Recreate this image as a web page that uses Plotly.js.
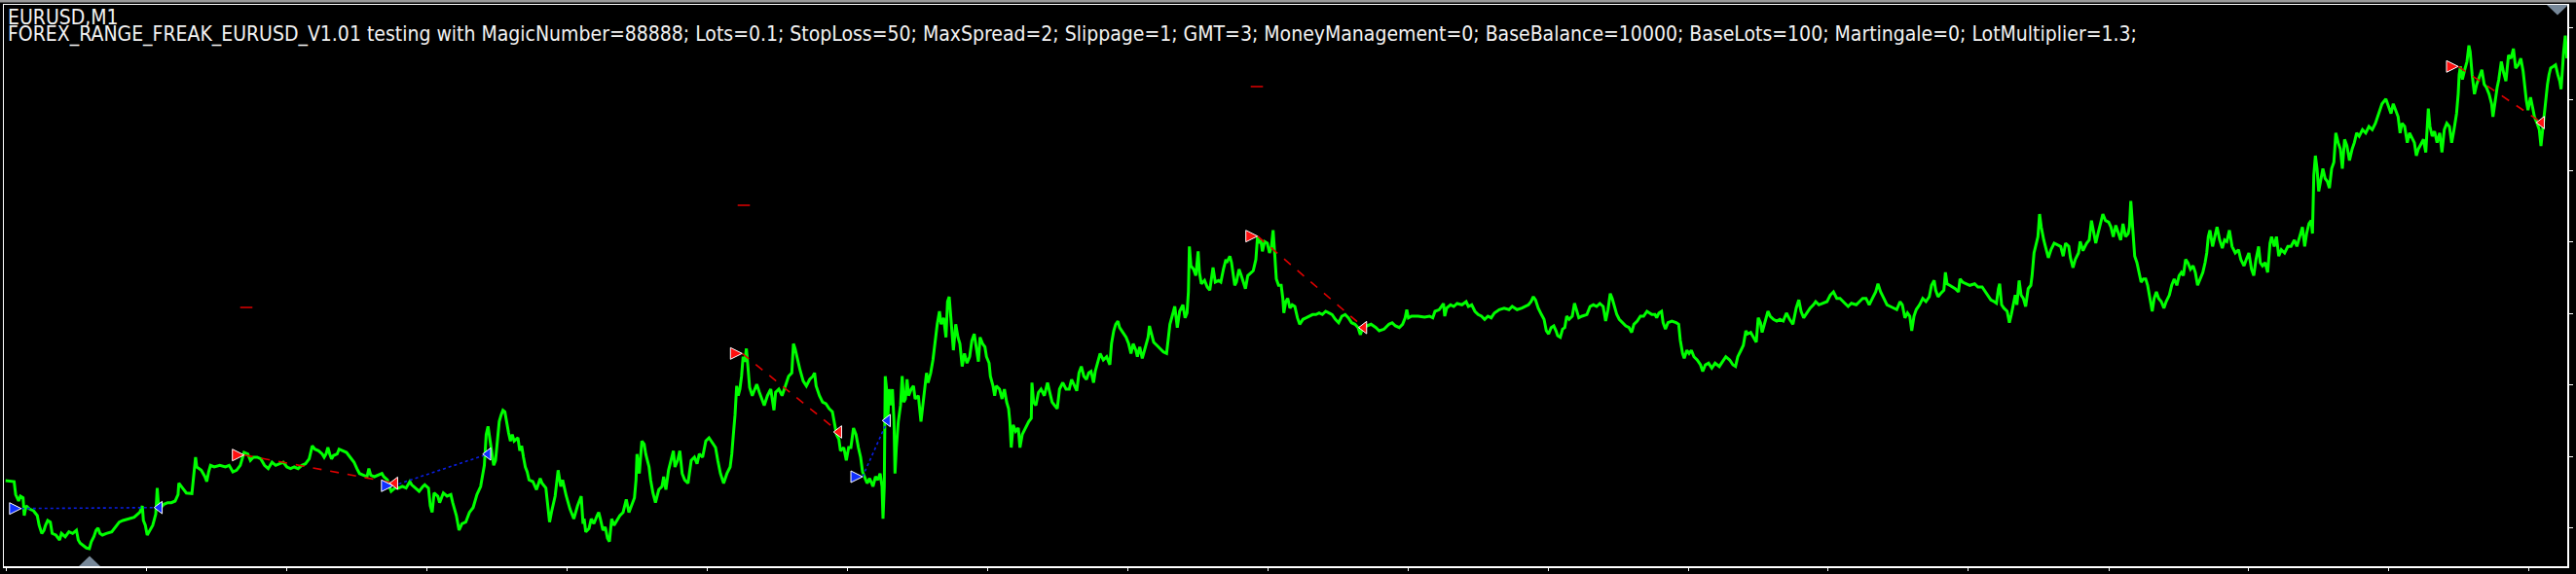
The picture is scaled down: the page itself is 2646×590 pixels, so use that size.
<!DOCTYPE html>
<html>
<head>
<meta charset="utf-8">
<script src="https://cdn.plot.ly/plotly-3.0.1.min.js"></script>
<style>
  html, body { margin: 0; padding: 0; background: #000; }
  #chart { width: 2646px; height: 590px; }
</style>
</head>
<body>
<div id="chart"></div>
<script>
// ---- Data (bar index, price in points above chart floor) ----
const chartTitle = "EURUSD,M1";
const testerInfo = "FOREX_RANGE_FREAK_EURUSD_V1.01 testing with MagicNumber=88888; Lots=0.1; StopLoss=50; MaxSpread=2; Slippage=1; GMT=3; MoneyManagement=0; BaseBalance=10000; BaseLots=100; Martingale=0; LotMultiplier=1.3;";

const sessionA = [[5.7,89],[14.5,88],[16.1,74.7],[19.1,68],[21,73],[23.7,71.3],[24.9,53],[26.8,63],[30.6,59.7],[34.4,58],[38.3,53],[40.2,43],[42.9,34.7],[45.2,38],[46.7,43],[49,48],[51.7,46.3],[53.6,34.7],[57.4,33],[61.2,28],[63.1,34.7],[67,31.3],[70.8,36.3],[74.6,34.7],[78.5,38],[80.4,28],[82.3,24.7],[86.1,21.3],[88.8,19.7],[91.8,19],[93.8,26.3],[96.4,31.3],[98.7,38],[100.7,40.3],[102.6,34.7],[105.2,33],[109.1,34.7],[114.8,36.3],[118.6,41.3],[122.5,46.3],[126.3,48],[132,49.7],[137.8,51.3],[143.5,56.3],[146.2,63],[147.3,48],[149.3,43],[151.2,33],[153.8,38],[156.9,43],[160,54.7],[161.5,81.3],[162.6,66.3],[165.3,61.3],[168.4,64.7],[172.2,66.3],[176,66.3],[179.9,68],[182.9,74.7],[183.7,86.3],[187.5,81.3],[191.4,76.3],[197.1,75.7],[199,91.3],[200.9,113],[202.1,103],[206.7,99.7],[210.5,93],[212.4,88],[214.3,98],[216.2,104.7],[220.1,103],[225.8,104.7],[231.5,103],[235.4,104.7],[239.2,98],[243,99.7],[246.8,104.7],[248.8,111.3],[250.7,118],[254.5,116.3],[257.2,109.7],[260.2,113],[264.1,113],[267.9,111.3],[271.7,104.7],[275.5,101.3],[279.4,108],[283.2,104.7],[287,106.3],[290.9,108],[294.7,103],[298.5,101.3],[302.3,103],[306.2,101.3],[310,104.7],[313.8,106.3],[317.6,111.3],[320.7,124.7],[323.4,121.3],[327.2,119.7],[331,116.3],[333,113],[334.9,116.3],[336.8,123],[338.7,116.3],[340.6,111.3],[342.5,114.7],[346.3,116.3],[348.3,121.3],[352.1,119.7],[355.9,118],[359.7,113],[363.6,108],[366.6,101.3],[369.3,96.3],[373.1,94.7],[377,93],[378.9,101.3],[380.8,94.7],[384.6,93],[388.4,94.7],[392.3,96.3],[394.2,93],[398,89.7],[399.9,83],[401.8,78],[405.7,81.3],[409.5,81.3],[413.3,83],[417.1,81.3],[421,88],[422.9,84.7],[426.7,81.3],[430.5,78],[434.4,83],[436.3,84.7],[440.1,81.3],[442,63],[443.9,56.3],[445.9,76.3],[449.7,73],[451.6,66.3],[455.4,76.3],[459.2,73],[463.1,74.7],[465,66.3],[468.8,53],[471.5,38],[474.5,44.7],[478.4,46.3],[482.2,56.3],[486,61.3],[489.9,74.7],[493.7,83],[497.5,104.7],[499.4,136.3],[501.3,144.7],[503.3,129.7],[505.2,116.3],[507.1,104.7],[509,109.7],[510.9,133],[512.8,149.7],[514.7,156.3],[516.6,161.3],[518.6,159.7],[520.5,146.3],[522.4,138],[524.3,129.7],[526.2,136.3],[528.1,129.7],[532,133],[533.9,119.7],[535.8,124.7],[537.7,113],[539.6,103],[541.5,98],[543.4,89.7],[547.3,88],[551.1,79.7],[554.9,91.3],[556.8,86.3],[560.7,81.3],[562.6,63],[564.5,46.3],[566.4,56.3],[570.2,73],[573.3,99.7],[576,83],[577.9,89.7],[581.7,73],[585.5,59.7],[589.4,49.7],[593.2,63],[597,73],[598.9,44.7]];

const sessionB = [[600,49.7],[601.7,36.3],[605,39.7],[607.3,49.7],[610,44.7],[613.3,53],[615,56.3],[616.7,49.7],[619.3,38],[621.7,41.3],[624,29.7],[626,26.3],[628.3,49.7],[630.7,43],[633.3,48],[636.7,53],[640,56.3],[643.3,69.7],[646,56.3],[648.3,63],[651.7,71.3],[653.3,89.7],[654.3,116.3],[656.7,96.3],[659.3,129.7],[661.7,126.3],[663.3,116.3],[666.7,103],[668.3,89.7],[670.7,76.3],[673.3,66.3],[676.7,79.7],[680,83],[681.7,93],[684,79.7],[686.7,99.7],[689.3,109.7],[691.7,119.7],[693.3,103],[696,109.7],[698.3,119.7],[700.7,96.3],[703.3,89.7],[706.7,86.3],[710,109.7],[713.3,113],[716,106.3],[718.3,116.3],[721.7,113],[725,129.7],[728.3,133],[731.7,128],[735,123],[737.3,109.7],[740,96.3],[743.3,86.3],[746.7,96.3],[750,103],[751.7,116.3],[753.3,136.3],[755,156.3],[756.7,186.3],[758.3,176.3],[760,183],[761.7,196.3],[763.3,216.3],[765,211.3],[766.7,224.7],[768.3,203],[770,184.7],[772.7,176.3],[775,183],[777.3,188],[780,179.7],[782.7,173],[785,166.3],[788.3,176.3],[791.7,183],[795,161.3],[796.7,179.7],[800,183],[803.3,176.3],[806.7,186.3],[810,196.3],[813.3,199.7],[815,229.7],[816.7,224.7],[819.3,213],[821.7,203],[825,191.3],[828.3,186.3],[831.7,193],[835,196.3],[836.7,199.7],[838.3,186.3],[841.7,176.3],[845,169.7],[848.3,168],[851.7,163],[855,159.7],[856.7,149.7],[859.3,136.3],[861.7,131.3],[863.3,119.7],[866.7,123],[869.3,109.7],[871.7,123],[874,123],[876.7,143],[879.3,136.3],[881.7,123],[884,113],[886,98],[888.3,93],[890.7,86.3],[893.3,91.3],[896.7,83],[899.3,93],[901.7,89.7],[904,96.3],[906,83],[907,49.7],[908.3,83],[909.3,196.3],[910.7,183],[912,153],[913.3,183],[915,166.3],[916.7,183],[918.3,149.7],[919.3,96.3],[920.7,123],[922.7,149.7],[925,166.3],[926.7,196.3],[928.3,169.7],[930,173],[931.7,193],[933.3,176.3],[936,183],[938.3,186.3],[940,173],[943.3,176.3],[946,149.7],[948.3,169.7],[950,183],[951.7,199.7],[953.3,189.7],[956,199.7],[958.3,213],[960,229.7],[962.7,249.7],[965,263],[966.7,249.7],[969.3,256.3],[971.7,236.3],[973.3,273],[975,278],[976.7,256.3],[979.3,223]];

const sessionC = [[981.7,249.7],[984,236.3],[986,229.7],[988.3,206.3],[990.7,219.7],[993.3,209.7],[996,216.3],[998.3,233],[1000.7,239.7],[1002.7,226.3],[1005,211.3],[1006.7,236.3],[1009.3,229.7],[1011.7,226.3],[1013.3,216.3],[1016,209.7],[1017.3,196.3],[1020,186.3],[1021.7,176.3],[1023.3,186.3],[1026.7,183],[1029.3,173],[1031.7,183],[1034,169.7],[1036,163],[1037.3,149.7],[1038.7,123],[1040.7,146.3],[1043.3,139.7],[1046,143],[1047.7,123],[1050,136.3],[1053.3,143],[1056.7,149.7],[1059.3,153],[1060,189.7],[1061.7,169.7],[1064,166.3],[1066.7,179.7],[1069.3,183],[1072.7,176.3],[1076,189.7],[1078.3,179.7],[1080.7,169.7],[1083.3,166.3],[1086,163],[1088.3,183],[1091.7,189.7],[1095,183],[1098.3,183],[1100.7,193],[1103.3,186.3],[1106,181.3],[1108.3,199.7],[1110.7,206.3],[1113.3,196.3],[1116,193],[1118.3,199.7],[1120.7,201.3],[1123.3,189.7],[1125,201.3],[1127.3,209.7],[1130,219.7],[1133.3,213],[1136.7,216.3],[1140,208],[1141.7,229.7],[1144,243],[1146,249.7],[1148.3,253],[1150,246.3],[1153.3,241.3],[1156.7,236.3],[1159.3,229.7],[1161.7,219.7],[1164,229.7],[1166.7,223],[1168.3,216.3],[1170.7,226.3],[1173.3,214.7],[1176.7,226.3],[1179.3,236.3],[1180.7,248],[1182.7,239.7],[1185,231.3],[1188.3,228],[1191.7,224.7],[1195,221.3],[1198.3,219.7],[1200,236.3],[1201.7,249.7],[1204,258],[1206.7,268],[1209.3,246.3],[1211.7,263],[1215,269.7],[1217.3,256.3],[1219.3,261.3],[1220.7,283],[1221.7,329.7],[1223.3,309.7],[1226,306.3],[1228.3,299.7],[1230.7,324.7],[1232,303],[1234,291.3],[1237.3,294.7],[1240,288],[1242.7,284.7],[1246,308],[1248.3,293],[1251.7,294.7],[1254,293],[1256.7,306.3],[1259.3,316.3]];

const sessionD = [[1260,313],[1263.3,319.7],[1265,313],[1266.7,299.7],[1268.3,289.7],[1270,293],[1272.7,306.3],[1275,299.7],[1277.3,293],[1279.3,286.3],[1281.7,299.7],[1285,303],[1287.3,304.7],[1290,316.3],[1291.7,339.7],[1293.3,333],[1295,336.3],[1296.7,324.7],[1299,334.7],[1301.7,333],[1304,323],[1306,329.7],[1307.7,346.3],[1309.3,323],[1311,296.3],[1313.3,289.7],[1316,289.7],[1317.7,276.3],[1318.7,261.3],[1320.7,273],[1322.7,276.3],[1325,266.3],[1327.3,269.7],[1330,268],[1332.7,256.3],[1335,249.7],[1338.3,254.7],[1341.7,256.3],[1345,258],[1348.3,259.7],[1351.7,259.7],[1355,261.3],[1358.3,259.7],[1361.7,263],[1365,261.3],[1368.3,259.7],[1371.7,254.7],[1375,251.3],[1378.3,258],[1381.7,259.7],[1385,256.3],[1388.3,251.3],[1391.7,249.7],[1395,246.3],[1397.3,239],[1400,246.3],[1404,248],[1408.3,249.7],[1413.3,246.3],[1416.7,243],[1421.7,244.7],[1426.7,249.7],[1430,251.3],[1433.3,248],[1437.3,246.3],[1440.7,249.7],[1443.3,256.3],[1445,264.7],[1446.7,256.3],[1450,258],[1456.7,258],[1463.3,257],[1468.3,258],[1471.7,256.3],[1474,263],[1478.3,264.7],[1482.7,271],[1484,258],[1486,266.3],[1490,269.7],[1493.3,268],[1496.7,271],[1501.7,269.7],[1506,273],[1508.3,268],[1511.7,269.7],[1515,263],[1518.3,259.7],[1521.7,258],[1525,254.7],[1528.3,258],[1531.7,256.3],[1535,261.3],[1540,264.7],[1545,266.3],[1550,264.7],[1553.3,268],[1558.3,264.7],[1563.3,266.3],[1566.7,268],[1570,269.7],[1572.7,273],[1575,278],[1577.3,274.7],[1580,266.3],[1583.3,259.7],[1586,254.7],[1588.3,243],[1590.7,239.7],[1593.3,246.3],[1596,248],[1598.3,243],[1600,238],[1602.7,236.3],[1605,244.7],[1607.3,246.3],[1609.3,258],[1611.7,254.7],[1615,258],[1617.3,271.3],[1619.3,264.7],[1621.7,256.3],[1625,258],[1630,259.7],[1633.3,268],[1636.7,269.7],[1640,268],[1643.3,271],[1646.7,268],[1649.3,253],[1651.7,264.7],[1654,281.3],[1656,276.3],[1658.3,268],[1660.7,259.7],[1663.3,254.7],[1666.7,251.3],[1670,248],[1673.3,246.3],[1676,241.3],[1678.3,249.7],[1681.7,253],[1685,258],[1688.3,258],[1691.7,263],[1696.7,259.7],[1700,259.7]];

const sessionE = [[1701.7,256.3],[1704,261.3],[1706.7,263],[1708.3,251.3],[1710.7,244.7],[1713.3,251.3],[1717.3,253],[1721.7,251.3],[1724.3,249.7],[1726,233],[1728.3,219.7],[1730,214.7],[1732.7,223],[1735,219.7],[1737.3,223],[1740,216.3],[1743.3,213],[1746.7,208],[1749,201.3],[1751.7,208],[1755,209.7],[1758.3,204.7],[1761.7,209.7],[1766,206.3],[1769.3,211.3],[1772.7,216.3],[1776.7,213],[1780,208],[1782.7,206.3],[1785,216.3],[1788.3,223],[1790.7,228],[1793.3,243],[1795,239.7],[1798.3,241.3],[1801.7,234.7],[1804,231.3],[1806,256.3],[1808.3,251.3],[1810,241.3],[1812.7,251.3],[1816,263],[1818.3,258],[1821.7,254.7],[1825,253],[1828.3,254.7],[1831.7,253],[1835,261.3],[1838.3,254.7],[1841.7,249.7],[1845,266.3],[1847.7,274.7],[1850,263],[1852.7,256.3],[1856,261.3],[1859.3,266.3],[1862.7,269.7],[1865,273],[1868.3,269.7],[1871.7,271.3],[1876.7,273],[1880,279.7],[1883.3,283],[1886.7,276.3],[1890,276.3],[1895,271.3],[1898.3,268],[1901.7,271.3],[1906.7,269.7],[1910,273],[1913.3,276.3],[1916.7,276.3],[1920,269.7],[1923.3,276.3],[1926.7,283],[1929,291.3],[1931.7,283],[1935,276.3],[1938.3,269.7],[1941.7,268],[1945,266.3],[1948.3,264.7],[1951.7,273],[1954,269.7],[1956.7,256.3],[1959.3,261.3],[1961.7,258],[1963.7,243],[1966,258],[1968.3,264.7],[1971.7,269.7],[1975,276.3],[1978.3,273],[1981.7,278],[1984,289.7],[1986.7,294.7],[1988.3,284.7],[1990.7,278],[1993.3,281.3],[1996.7,284.7],[1998.3,303],[2000,291.3],[2002.7,289.7],[2006,288],[2008.3,286.3],[2011.7,283],[2013.3,296.3],[2016,293],[2019.3,291.3],[2023.3,289.7],[2028.3,291.3],[2031.7,288],[2036,288],[2038.3,284.7],[2041.7,279.7],[2045,274.7],[2048.3,273],[2050.7,271.3],[2052.7,286.3],[2054,291.3],[2056,269.7],[2058.3,266.3],[2061.7,263],[2064,251.3],[2066,259.7],[2068.3,273],[2070,279.7],[2071.7,269.7],[2074,294.7],[2076,279.7],[2078.3,276.3],[2080.7,268],[2083.3,286.3],[2086,289.7],[2087.3,299.7],[2089.3,323],[2091.7,333],[2093.3,339.7],[2095,363],[2096.7,349.7],[2099.3,336.3],[2101.7,326.3],[2104,318],[2106.7,326.3],[2110,333],[2113.3,331.3],[2116.7,329.7],[2119.3,319.7],[2121.7,333],[2125,329.7],[2126.7,318],[2129.3,308],[2131.7,316.3],[2135,323],[2136.7,334.7],[2139.3,326.3]];

const sessionF = [[2140,326.3],[2143.3,333],[2146,336.3],[2148.3,356.3],[2150,346.3],[2152.7,333],[2155,343],[2157.3,353],[2160,363],[2162.7,356.3],[2166,354.7],[2168.3,349.7],[2170.7,339.7],[2173.3,351.3],[2176,343],[2178.3,336.3],[2180.7,353],[2183.3,339.7],[2186,343],[2187.3,349.7],[2188.7,376.3],[2190,356.3],[2191.7,336.3],[2192.7,319.7],[2195,313],[2197.3,303],[2199.3,293],[2201.7,296.3],[2204,296.3],[2206,289.7],[2208.3,276.3],[2210.7,263],[2212.7,276.3],[2215,283],[2217.3,276.3],[2220,273],[2222.7,266.3],[2225,273],[2228.3,279.7],[2230.7,289.7],[2233.3,296.3],[2236,289.7],[2238.3,299.7],[2240.7,303],[2242.7,299.7],[2245,316.3],[2247.3,313],[2250,306.3],[2252.7,309.7],[2255,303],[2257.3,289.7],[2260,296.3],[2262.7,303],[2265,313],[2266.7,323],[2268.3,339.7],[2270,346.3],[2272.7,329.7],[2275,339.7],[2277.3,349.7],[2280,336.3],[2282.7,328],[2285,336.3],[2287.3,334.7],[2290,346.3],[2292.7,329.7],[2296,323],[2299.3,326.3],[2301.7,316.3],[2305,309.7],[2307.3,316.3],[2310,323],[2312.7,306.3],[2315,299.7],[2317.3,316.3],[2320,329.7],[2321.7,313],[2324,309.7],[2326.7,313],[2329.3,303],[2331.7,333],[2333.3,339.7],[2336,329.7],[2338.3,339.7],[2340.7,319.7],[2343.3,326.3],[2346.7,323],[2350,329.7],[2353.3,329.7],[2356.7,336.3],[2359.3,329.7],[2362.7,343],[2365,349.7],[2367.3,329.7],[2369.3,343],[2371.7,353],[2374,356.3],[2375.3,343],[2376.7,403],[2378.3,423],[2380,409.7],[2381.7,386.3],[2383.3,396.3],[2386,409.7],[2388.3,399.7],[2390.7,396.3],[2392.7,389.7],[2395,409.7],[2397.3,416.3],[2399.3,446.3],[2401.7,436.3],[2404,429.7],[2406,409.7],[2408.3,439.7],[2410.7,433],[2413.3,418],[2416,429.7],[2418.3,436.3],[2420.7,446.3],[2423.3,443],[2426.7,449.7],[2430,446.3],[2433.3,453],[2436.7,449.7]];

const sessionG = [[2440,456.3],[2443.3,466.3],[2446.7,476.3],[2450.7,481.3],[2453.3,473],[2456,466.3],[2458.3,476.3],[2460.7,469.7],[2463.3,463],[2465.3,446.3],[2467.3,456.3],[2470,453],[2472.7,436.3],[2475,446.3],[2477.3,441.3],[2480,436.3],[2482,423],[2484,429.7],[2486.7,434.7],[2489.3,439.7],[2491.7,426.3],[2493.3,453],[2494.3,471.3],[2496,453],[2498.3,443],[2500.7,448],[2503.3,436.3],[2506,446.3],[2508.3,426.3],[2510.7,449.7],[2513.3,456.3],[2516,453],[2518.3,436.3],[2520.7,449.7],[2523.3,466.3],[2525,486.3],[2526,506.3],[2527.3,514.7],[2529.3,501.3],[2531.7,511.3],[2534,519.7],[2536,536.3],[2537.3,529.7],[2539.3,506.3],[2541.7,486.3],[2544,496.3],[2546.7,503],[2549.3,511.3],[2551.7,496.3],[2554,493],[2556.7,486.3],[2559.3,476.3],[2560.7,463],[2562.7,479.7],[2565,493],[2566.7,501.3],[2569.3,519.7],[2571.7,508],[2574,499.7],[2576.7,526.3],[2579.3,523],[2581.7,533],[2584,513],[2586.7,516.3],[2589.3,523],[2591.7,509.7],[2593.3,493],[2595,479.7],[2596.7,469.7],[2599.3,483],[2601.7,471.3],[2603.3,463],[2606,456.3],[2608.3,449.7],[2610,433],[2611.7,449.7],[2613.3,466.3],[2615,476.3],[2616.7,496.3],[2618.3,506.3],[2620,513],[2622.7,514.7],[2625,516.3],[2627.3,506.3],[2629.3,499.7],[2630.7,491.3],[2631.7,509.7],[2633.3,529.7],[2635,546.3],[2636.7,523]];

// Trades (bar, price)
const buyOpenBar   = [21.8, 403.8, 886];
const buyOpenPrice = [60.3, 83.7, 93];
const buyCloseBar   = [163.8, 501.3, 911.7];
const buyClosePrice = [61.3, 116.3, 150.7];
const sellOpenBar   = [250.7, 762.3, 1291.7, 2525];
const sellOpenPrice = [115.3, 219.7, 340.3, 514.7];
const sellCloseBar   = [405.7, 861.7, 1401, 2610.7];
const sellClosePrice = [86.3, 139, 246.3, 457];
const stopBar   = [253, 764, 1291];
const stopPrice = [267, 372, 494];

// Axis ticks
const timeTicks  = [6, 150, 294, 438, 582, 726, 870, 1014, 1158, 1302, 1446, 1590, 1734, 1877, 2021, 2166, 2309, 2453, 2597];
const priceTicks = [41, 114, 188, 261, 335, 408, 481, 555];

// ---- Build traces ----
const sessions = [sessionA, sessionB, sessionC, sessionD, sessionE, sessionF, sessionG];
const bars = [], prices = [];
sessions.forEach(s => s.forEach(p => { bars.push(p[0]); prices.push(p[1]); }));

const traces = [];
traces.push({
  x: bars, y: prices, type: 'scatter', mode: 'lines',
  line: { color: '#00ff00', width: 3 }, hoverinfo: 'skip', showlegend: false
});

// connection lines
for (let i = 0; i < buyOpenBar.length; i++) {
  traces.push({
    x: [buyOpenBar[i], buyCloseBar[i]], y: [buyOpenPrice[i], buyClosePrice[i]],
    type: 'scatter', mode: 'lines', line: { color: '#0a1ee0', width: 1.6, dash: 'dot' },
    hoverinfo: 'skip', showlegend: false
  });
}
for (let i = 0; i < sellOpenBar.length; i++) {
  traces.push({
    x: [sellOpenBar[i], sellCloseBar[i]], y: [sellOpenPrice[i], sellClosePrice[i]],
    type: 'scatter', mode: 'lines', line: { color: '#e00000', width: 1.6, dash: 'dash' },
    hoverinfo: 'skip', showlegend: false
  });
}
// stop level dashes
traces.push({
  x: stopBar, y: stopPrice, type: 'scatter', mode: 'markers',
  marker: { symbol: 'line-ew', size: 9, line: { color: '#e00000', width: 1.5 } },
  hoverinfo: 'skip', showlegend: false
});
// markers
traces.push({
  x: buyOpenBar, y: buyOpenPrice, type: 'scatter', mode: 'markers',
  marker: { symbol: 'arrow-right', size: 12, color: '#1030ff', line: { color: '#ffffff', width: 1 } },
  hoverinfo: 'skip', showlegend: false
});
traces.push({
  x: buyCloseBar, y: buyClosePrice, type: 'scatter', mode: 'markers',
  marker: { symbol: 'triangle-left', size: 11, color: '#1030ff', line: { color: '#ffffff', width: 1 } },
  hoverinfo: 'skip', showlegend: false
});
traces.push({
  x: sellOpenBar, y: sellOpenPrice, type: 'scatter', mode: 'markers',
  marker: { symbol: 'arrow-right', size: 12, color: '#ff1010', line: { color: '#ffffff', width: 1 } },
  hoverinfo: 'skip', showlegend: false
});
traces.push({
  x: sellCloseBar, y: sellClosePrice, type: 'scatter', mode: 'markers',
  marker: { symbol: 'triangle-left', size: 11, color: '#ff1010', line: { color: '#ffffff', width: 1 } },
  hoverinfo: 'skip', showlegend: false
});

const textFont = { family: 'DejaVu Sans Condensed, DejaVu Sans, sans-serif', size: 21, color: '#f2f2f2' };

const layout = {
  width: 2646, height: 590,
  paper_bgcolor: '#000000', plot_bgcolor: '#000000',
  margin: { l: 4, r: 9, t: 5, b: 8, pad: 0 },
  showlegend: false,
  xaxis: {
    range: [4, 2637], showgrid: false, zeroline: false, showticklabels: false,
    showline: true, linecolor: '#ffffff', linewidth: 1.5, mirror: true,
    ticks: 'outside', ticklen: 3, tickwidth: 1, tickcolor: '#ffffff',
    tickmode: 'array', tickvals: timeTicks, fixedrange: true
  },
  yaxis: {
    range: [1, 578], side: 'right', showgrid: false, zeroline: false, showticklabels: false,
    showline: true, linecolor: '#ffffff', linewidth: 1.5, mirror: true,
    ticks: 'outside', ticklen: 4, tickwidth: 1, tickcolor: '#ffffff',
    tickmode: 'array', tickvals: priceTicks, fixedrange: true
  },
  shapes: [
    { type: 'rect', xref: 'paper', yref: 'paper', x0: -0.003, x1: 1.004, y0: 1.0045, y1: 1.0095,
      line: { width: 0 }, fillcolor: '#9a9a9a', layer: 'above' },
    { type: 'path', xref: 'x', yref: 'y', path: 'M 81 1 L 103 1 L 92 11.5 Z',
      fillcolor: '#778899', line: { width: 0 } },
    { type: 'path', xref: 'x', yref: 'y', path: 'M 2616 578 L 2638 578 L 2627 567.5 Z',
      fillcolor: '#778899', line: { width: 0 } }
  ],
  annotations: [
    { text: chartTitle, xref: 'paper', yref: 'paper', x: 0.0012, y: 0.9775,
      xanchor: 'left', yanchor: 'middle', showarrow: false, borderpad: 0, font: textFont },
    { text: testerInfo, xref: 'paper', yref: 'paper', x: 0.0012, y: 0.9475,
      xanchor: 'left', yanchor: 'middle', showarrow: false, borderpad: 0, font: textFont }
  ]
};

Plotly.newPlot('chart', traces, layout, { staticPlot: true, displayModeBar: false });
</script>
</body>
</html>
